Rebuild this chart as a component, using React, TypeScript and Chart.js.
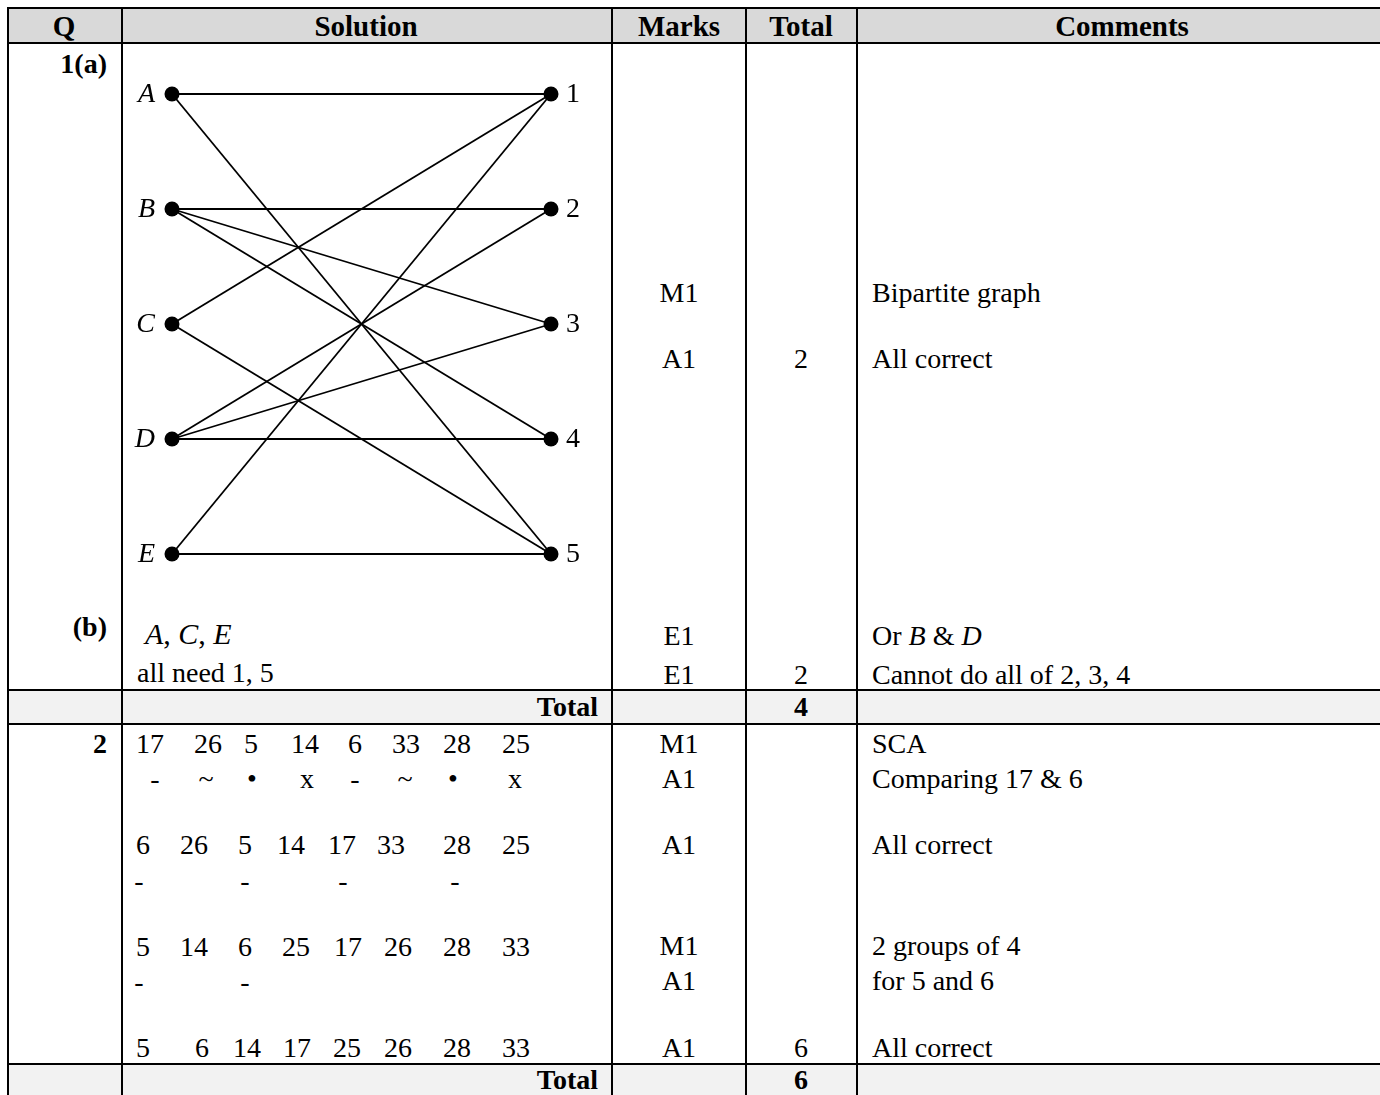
import React, { useEffect, useRef } from "react";
import { Chart, registerables } from "chart.js";

Chart.register(...registerables);

// ---- graph data ----
const leftNodes = ["A", "B", "C", "D", "E"];
const rightNodes = ["1", "2", "3", "4", "5"];
const edges: [string, string][] = [
  ["A", "1"], ["A", "5"],
  ["B", "2"], ["B", "3"], ["B", "4"],
  ["C", "1"], ["C", "5"],
  ["D", "2"], ["D", "3"], ["D", "4"],
  ["E", "1"], ["E", "5"],
];

// ---- table text ----
const headers = ["Q", "Solution", "Marks", "Total", "Comments"];
const q1Marks = ["M1", "A1", "E1", "E1"];
const q1Totals = ["2", "2"];
const q1Comments = ["Bipartite graph", "All correct", "Or B & D", "Cannot do all of 2, 3, 4"];
const q2Rows: string[][] = [
  ["17", "26", "5", "14", "6", "33", "28", "25"],
  ["-", "~", "•", "x", "-", "~", "•", "x"],
  ["6", "26", "5", "14", "17", "33", "28", "25"],
  ["-", "-", "-", "-"],
  ["5", "14", "6", "25", "17", "26", "28", "33"],
  ["-", "-"],
  ["5", "6", "14", "17", "25", "26", "28", "33"],
];
const q2Marks = ["M1", "A1", "A1", "M1", "A1", "A1"];
const q2Comments = ["SCA", "Comparing 17 & 6", "All correct", "2 groups of 4", "for 5 and 6", "All correct"];
const totals = ["4", "6"];

// ---- layout (positions only) ----
const W = 1380;
const H = 1095;
const colX = [7, 121, 611, 745, 856];
const hLines = [7, 42, 689, 723, 1063];
const grayRows: [number, number, string][] = [
  [9, 42, "#d9d9d9"],
  [691, 723, "#f2f2f2"],
  [1065, 1095, "#f2f2f2"],
];
const headerCenters = [64, 366, 679, 801, 1122];
const q1MarkY = [293, 359, 636, 675];
const q1TotalY = [359, 675];
const q1CommentY = [293, 359, 636, 675];
const q2RowY = [744, 779, 845, 881, 947, 982, 1048];
const q2RowCenters: number[][] = [
  [150, 208, 251, 305, 355, 406, 457, 516],
  [155, 206, 252, 307, 355, 405, 453, 515],
  [143, 194, 245, 291, 342, 391, 457, 516],
  [139, 245, 343, 455],
  [143, 194, 245, 296, 348, 398, 457, 516],
  [139, 245],
  [143, 202, 247, 297, 347, 398, 457, 516],
];
const q2MarkY = [744, 779, 845, 946, 981, 1048];
const q2CommentY = [744, 779, 845, 946, 981, 1048];
const totalRowY = [707, 1080];

const FONT = '"Liberation Serif", "Times New Roman", serif';
const BODY = 28;

type TProps = {
  x: number;
  y: number;
  align?: "left" | "center" | "right";
  bold?: boolean;
  italic?: boolean;
  size?: number;
  children: React.ReactNode;
};

function T({ x, y, align = "left", bold, italic, size = BODY, children }: TProps) {
  const style: React.CSSProperties = {
    position: "absolute",
    top: y - 15,
    height: 30,
    lineHeight: "30px",
    fontSize: size,
    fontWeight: bold ? "bold" : "normal",
    fontStyle: italic ? "italic" : "normal",
    whiteSpace: "pre",
  };
  if (align === "left") style.left = x;
  else if (align === "right") style.right = W - x;
  else {
    style.left = x;
    style.transform = "translateX(-50%)";
  }
  return <div style={style}>{children}</div>;
}

function Graph() {
  const ref = useRef<HTMLCanvasElement | null>(null);
  useEffect(() => {
    if (!ref.current) return;
    const yOf = (n: string, list: string[]) => list.indexOf(n) + 1;
    const edgeSets = edges.map(([l, r]) => ({
      type: "scatter" as const,
      data: [
        { x: 0, y: yOf(l, leftNodes) },
        { x: 1, y: yOf(r, rightNodes) },
      ],
      showLine: true,
      borderColor: "#000",
      borderWidth: 1.8,
      pointRadius: 0,
      clip: false as any,
      order: 2,
    }));
    const nodeSet = {
      type: "scatter" as const,
      data: [
        ...leftNodes.map((n, i) => ({ x: 0, y: i + 1 })),
        ...rightNodes.map((n, i) => ({ x: 1, y: i + 1 })),
      ],
      showLine: false,
      pointRadius: 7.5,
      pointBackgroundColor: "#000",
      pointBorderColor: "#000",
      pointBorderWidth: 0,
      clip: false as any,
      order: 1,
    };
    const labelPlugin = {
      id: "nodeLabels",
      afterDatasetsDraw(chart: any) {
        const { ctx, scales } = chart;
        ctx.save();
        ctx.fillStyle = "#000";
        ctx.textBaseline = "middle";
        ctx.font = `italic 28px ${FONT}`;
        ctx.textAlign = "right";
        leftNodes.forEach((n, i) => {
          ctx.fillText(n, scales.x.getPixelForValue(0) - 17, scales.y.getPixelForValue(i + 1) + 1);
        });
        ctx.font = `28px ${FONT}`;
        ctx.textAlign = "left";
        rightNodes.forEach((n, i) => {
          ctx.fillText(n, scales.x.getPixelForValue(1) + 15, scales.y.getPixelForValue(i + 1) + 1);
        });
        ctx.restore();
      },
    };
    const chart = new Chart(ref.current, {
      type: "scatter",
      data: { datasets: [nodeSet, ...edgeSets] as any },
      options: {
        animation: false,
        responsive: false,
        events: [],
        layout: { padding: { left: 42, right: 49, top: 34, bottom: 36 } },
        plugins: { legend: { display: false }, tooltip: { enabled: false } },
        scales: {
          x: { type: "linear", min: 0, max: 1, display: false },
          y: { type: "linear", min: 1, max: 5, reverse: true, display: false },
        },
      },
      plugins: [labelPlugin],
    });
    return () => chart.destroy();
  }, []);
  return (
    <canvas
      ref={ref}
      width={470}
      height={530}
      style={{ position: "absolute", left: 130, top: 60, width: 470, height: 530 }}
    />
  );
}

export default function App() {
  return (
    <div
      style={{
        position: "absolute",
        left: 0,
        top: 0,
        width: W,
        height: H,
        overflow: "hidden",
        background: "#fff",
        color: "#000",
        fontFamily: FONT,
      }}
    >
      {grayRows.map(([y0, y1, c], i) => (
        <div key={"g" + i} style={{ position: "absolute", left: colX[0], top: y0, width: W - colX[0], height: y1 - y0, background: c }} />
      ))}
      {hLines.map((y, i) => (
        <div key={"h" + i} style={{ position: "absolute", left: colX[0], top: y, width: W - colX[0], height: 2, background: "#000" }} />
      ))}
      {colX.map((x, i) => (
        <div key={"v" + i} style={{ position: "absolute", left: x, top: hLines[0], width: 2, height: H - hLines[0], background: "#000" }} />
      ))}

      {headers.map((h, i) => (
        <T key={"hd" + i} x={headerCenters[i]} y={26} align="center" bold size={29}>{h}</T>
      ))}

      {/* Q labels */}
      <T x={107} y={64} align="right" bold>1(a)</T>
      <T x={107} y={627} align="right" bold>(b)</T>
      <T x={107} y={744} align="right" bold>2</T>

      <Graph />

      {/* 1(b) solution */}
      <T x={145} y={634} size={30}>
        <i>A</i>, <i>C</i>, <i>E</i>
      </T>
      <T x={137} y={673}>all need 1, 5</T>

      {q1Marks.map((m, i) => (
        <T key={"m1" + i} x={679} y={q1MarkY[i]} align="center">{m}</T>
      ))}
      {q1Totals.map((t, i) => (
        <T key={"t1" + i} x={801} y={q1TotalY[i]} align="center">{t}</T>
      ))}
      {q1Comments.map((c, i) => (
        <T key={"c1" + i} x={872} y={q1CommentY[i]}>
          {c === "Or B & D" ? (
            <>
              Or <i>B</i> &amp; <i>D</i>
            </>
          ) : (
            c
          )}
        </T>
      ))}

      {/* totals rows */}
      {totals.map((t, i) => (
        <React.Fragment key={"tot" + i}>
          <T x={598} y={totalRowY[i]} align="right" bold>Total</T>
          <T x={801} y={totalRowY[i]} align="center" bold>{t}</T>
        </React.Fragment>
      ))}

      {/* Q2 solution */}
      {q2Rows.map((row, r) =>
        row.map((tok, k) => (
          <T key={"q2" + r + "_" + k} x={q2RowCenters[r][k]} y={q2RowY[r]} align="center">{tok}</T>
        ))
      )}
      {q2Marks.map((m, i) => (
        <T key={"m2" + i} x={679} y={q2MarkY[i]} align="center">{m}</T>
      ))}
      <T x={801} y={1048} align="center">6</T>
      {q2Comments.map((c, i) => (
        <T key={"c2" + i} x={872} y={q2CommentY[i]}>{c}</T>
      ))}
    </div>
  );
}
